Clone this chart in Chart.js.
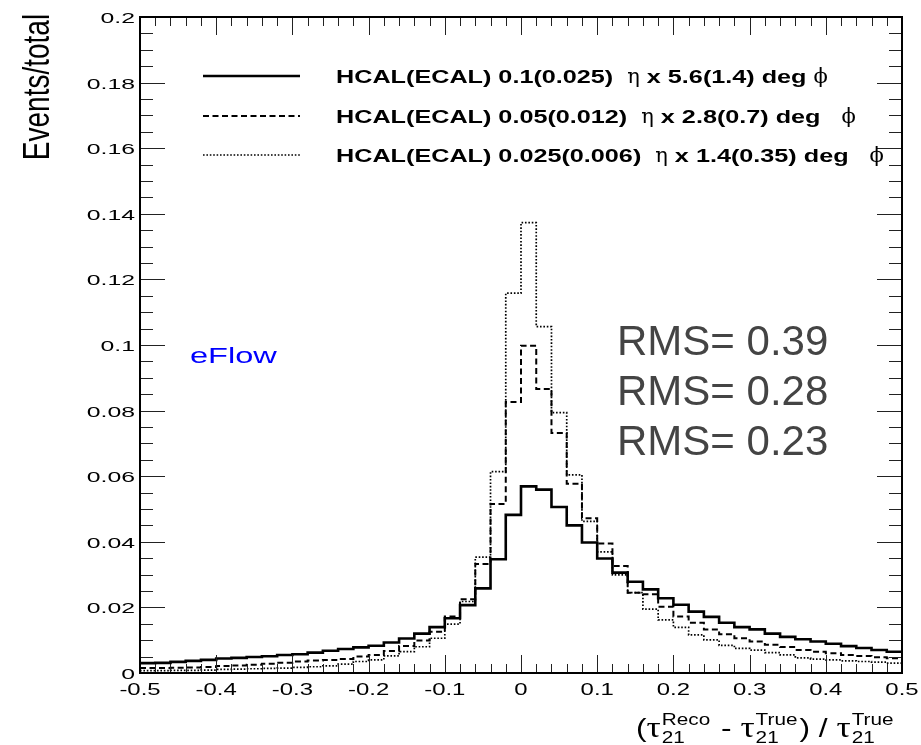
<!DOCTYPE html>
<html>
<head>
<meta charset="utf-8">
<script src="https://cdn.jsdelivr.net/npm/chart.js@4.4.1/dist/chart.umd.min.js"></script>
<style>
  html, body { margin: 0; padding: 0; background: #fff; }
  #c { display: block; }
</style>
</head>
<body>
<canvas id="c" width="921" height="745"></canvas>
<script>
// Histogram binning: 50 bins of width 0.02 over [-0.5, 0.5]
const binLow = -0.5;
const binWidth = 0.02;

// Normalised event fractions per bin, one array per granularity
const coarseCells = [
  0.0030, 0.0031, 0.0034, 0.0037, 0.0040, 0.0044, 0.0046, 0.0049, 0.0051, 0.0055,
  0.0057, 0.0062, 0.0068, 0.0073, 0.0078, 0.0083, 0.0093, 0.0105, 0.0120, 0.0140,
  0.0167, 0.0207, 0.0258, 0.0347, 0.0482, 0.0569, 0.0559, 0.0506, 0.0450, 0.0398,
  0.0349, 0.0306, 0.0278, 0.0255, 0.0228, 0.0208, 0.0187, 0.0171, 0.0153, 0.0140,
  0.0133, 0.0120, 0.0110, 0.0103, 0.0096, 0.0089, 0.0082, 0.0076, 0.0070, 0.0065
];
const mediumCells = [
  0.0015, 0.0015, 0.0016, 0.0017, 0.0018, 0.0021, 0.0023, 0.0025, 0.0028, 0.0031,
  0.0035, 0.0038, 0.0040, 0.0043, 0.0050, 0.0055, 0.0067, 0.0082, 0.0099, 0.0126,
  0.0172, 0.0225, 0.0332, 0.0515, 0.0826, 0.0998, 0.0866, 0.0732, 0.0577, 0.0472,
  0.0395, 0.0326, 0.0245, 0.0240, 0.0202, 0.0172, 0.0153, 0.0133, 0.0118, 0.0106,
  0.0096, 0.0086, 0.0079, 0.0070, 0.0065, 0.0060, 0.0055, 0.0052, 0.0048, 0.0045
];
const fineCells = [
  0.0007, 0.0007, 0.0008, 0.0008, 0.0009, 0.0011, 0.0012, 0.0013, 0.0014, 0.0015,
  0.0017, 0.0019, 0.0022, 0.0027, 0.0035, 0.0040, 0.0052, 0.0065, 0.0080, 0.0106,
  0.0149, 0.0218, 0.0353, 0.0614, 0.1158, 0.1373, 0.1056, 0.0794, 0.0604, 0.0462,
  0.0369, 0.0299, 0.0245, 0.0195, 0.0162, 0.0139, 0.0116, 0.0101, 0.0084, 0.0075,
  0.0070, 0.0062, 0.0055, 0.0046, 0.0042, 0.0040, 0.0037, 0.0035, 0.0033, 0.0030
];

const xTickLabels = ['-0.5', '-0.4', '-0.3', '-0.2', '-0.1', '0', '0.1', '0.2', '0.3', '0.4', '0.5'];
const yTickLabels = ['0', '0.02', '0.04', '0.06', '0.08', '0.1', '0.12', '0.14', '0.16', '0.18', '0.2'];

const legendLabels = [
  'HCAL(ECAL) 0.1(0.025)  η x 5.6(1.4) deg ϕ',
  'HCAL(ECAL) 0.05(0.012)  η x 2.8(0.7) deg   ϕ',
  'HCAL(ECAL) 0.025(0.006)  η x 1.4(0.35) deg   ϕ'
];
const rmsLabels = ['RMS= 0.39', 'RMS= 0.28', 'RMS= 0.23'];
const algoLabel = 'eFlow';
const yTitle = 'Events/total';

// Line styles for the three granularities
const styles = [
  { width: 2.6, dash: [] },
  { width: 2.0, dash: [6, 3.5] },
  { width: 1.7, dash: [1.6, 1.8] }
];

// Step outline: one point per bin low edge, plus the upper edge of the last bin
function stepPoints(values) {
  const pts = values.map((v, i) => ({ x: binLow + i * binWidth, y: v }));
  pts.push({ x: binLow + values.length * binWidth, y: values[values.length - 1] });
  return pts;
}

const series = [coarseCells, mediumCells, fineCells];

// Text stretched horizontally, like the ROOT canvas output
function wideText(ctx, text, x, y, font, sx, align) {
  ctx.save();
  ctx.font = font;
  const w = ctx.measureText(text).width * sx;
  let x0 = x;
  if (align === 'center') x0 = x - w / 2;
  else if (align === 'right') x0 = x - w;
  ctx.translate(x0, y);
  ctx.scale(sx, 1);
  ctx.textAlign = 'left';
  ctx.textBaseline = 'alphabetic';
  ctx.fillText(text, 0, 0);
  ctx.restore();
  return w;
}

const frameDecor = {
  id: 'frameDecor',
  afterDraw(chart) {
    const ctx = chart.ctx;
    const xs = chart.scales.x, ys = chart.scales.y;
    const a = chart.chartArea;
    ctx.save();
    ctx.fillStyle = '#000';

    // ticks on all four sides
    ctx.lineWidth = 1;
    ctx.strokeStyle = '#222';
    ctx.beginPath();
    for (let k = 0; k <= 50; k++) {
      const v = binLow + k * binWidth;
      const px = Math.round(xs.getPixelForValue(v)) + 0.5;
      const len = (k % 5 === 0) ? 18 : 9;
      ctx.moveTo(px, a.bottom); ctx.lineTo(px, a.bottom - len);
      ctx.moveTo(px, a.top); ctx.lineTo(px, a.top + len);
    }
    for (let k = 0; k <= 40; k++) {
      const v = k * 0.005;
      const py = Math.round(ys.getPixelForValue(v)) + 0.5;
      const len = (k % 4 === 0) ? 25 : 13;
      ctx.moveTo(a.left, py); ctx.lineTo(a.left + len, py);
      ctx.moveTo(a.right, py); ctx.lineTo(a.right - len, py);
    }
    ctx.stroke();

    // frame
    ctx.strokeStyle = '#000';
    ctx.lineWidth = 2;
    ctx.strokeRect(a.left, a.top, a.right - a.left, a.bottom - a.top);

    // tick labels
    ctx.fillStyle = '#000';
    yTickLabels.forEach(t => {
      const py = ys.getPixelForValue(parseFloat(t));
      wideText(ctx, t, 135, py + 6, '15.5px "Liberation Sans"', 1.6, 'right');
    });
    xTickLabels.forEach(t => {
      const px = xs.getPixelForValue(parseFloat(t));
      wideText(ctx, t, px, 695, '16.5px "Liberation Sans"', 1.45, 'center');
    });

    // y-axis title (rotated)
    ctx.save();
    ctx.translate(49, 87);
    ctx.scale(1.32, 1);
    ctx.rotate(-Math.PI / 2);
    ctx.font = '28px "Liberation Sans"';
    ctx.textAlign = 'center';
    ctx.textBaseline = 'alphabetic';
    ctx.fillText(yTitle, 0, 0);
    ctx.restore();

    // x-axis title: (tau21^Reco - tau21^True) / tau21^True
    const sx = 1.22;
    const mainF = '26px "Liberation Sans"';
    const tauF = '29px "Liberation Serif"';
    const scrF = '17px "Liberation Sans"';
    let x = 636;
    const base = 737;
    const put = (t, f) => wideText(ctx, t, x, base, f, sx, 'left');
    const scripts = (sup, sub) => {
      const w1 = wideText(ctx, sup, x + 1, base - 12, scrF, sx, 'left');
      const w2 = wideText(ctx, sub, x + 1, base + 6, scrF, sx, 'left');
      x += Math.max(w1, w2) + 3;
    };
    x += put('(', mainF);
    x += put('τ', tauF);
    scripts('Reco', '21');
    x += put(' - ', mainF);
    x += put('τ', tauF);
    scripts('True', '21');
    x += put(') / ', mainF);
    x += put('τ', tauF);
    scripts('True', '21');

    // legend
    const rowY = [76, 116, 155];
    legendLabels.forEach((lab, i) => {
      ctx.save();
      ctx.strokeStyle = '#000';
      ctx.lineWidth = styles[i].width;
      ctx.setLineDash(styles[i].dash);
      ctx.beginPath();
      ctx.moveTo(203, rowY[i]);
      ctx.lineTo(300, rowY[i]);
      ctx.stroke();
      ctx.restore();
      let lx = 336;
      lab.split(/([ηϕ])/).forEach(part => {
        if (!part) return;
        const greek = /[ηϕ]/.test(part);
        const f = greek ? '21px "DejaVu Serif", "Liberation Serif"' : 'bold 18px "Liberation Sans"';
        const sc = greek ? 1.0 : 1.4;
        lx += wideText(ctx, part, lx, rowY[i] + 7, f, sc, 'left');
      });
    });

    // algorithm tag
    ctx.fillStyle = '#0000ff';
    wideText(ctx, algoLabel, 190, 363, '22px "Liberation Sans"', 1.48, 'left');

    // RMS values
    ctx.fillStyle = '#444';
    rmsLabels.forEach((t, i) => {
      wideText(ctx, t, 617, 355 + i * 50, '42px "Liberation Sans"', 1.0, 'left');
    });
    ctx.restore();
  }
};

new Chart(document.getElementById('c'), {
  type: 'line',
  data: {
    datasets: series.map((vals, i) => ({
      data: stepPoints(vals),
      borderColor: '#000',
      borderWidth: styles[i].width,
      borderDash: styles[i].dash,
      stepped: 'before',
      fill: false,
      pointRadius: 0,
      tension: 0
    }))
  },
  options: {
    responsive: false,
    animation: false,
    devicePixelRatio: 1,
    layout: { padding: { left: 140, right: 19, top: 17, bottom: 72 } },
    plugins: { legend: { display: false }, tooltip: { enabled: false } },
    scales: {
      x: { type: 'linear', min: -0.5, max: 0.5, display: false },
      y: { type: 'linear', min: 0, max: 0.2, display: false }
    }
  },
  plugins: [frameDecor]
});
</script>
</body>
</html>
